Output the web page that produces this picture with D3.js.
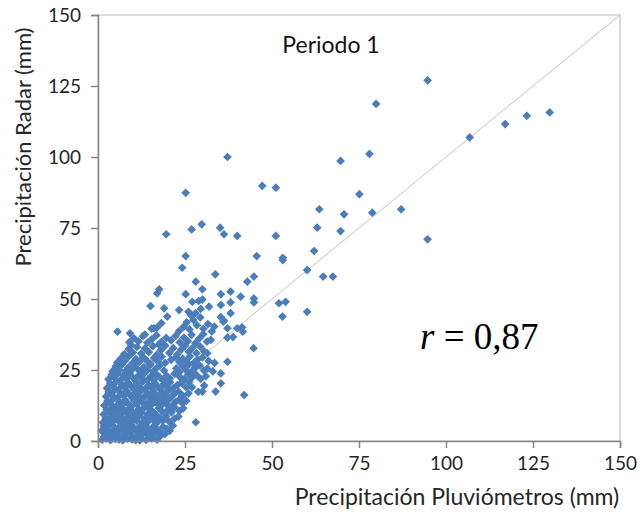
<!DOCTYPE html>
<html>
<head>
<meta charset="utf-8">
<script src="https://cdn.jsdelivr.net/npm/d3@7"></script>
<style>
  body { margin: 0; background: #fff; }
  #chart { width: 641px; height: 519px; }
  text { font-family: Lato, "Noto Sans", sans-serif; }
</style>
</head>
<body>
<div id="chart"></div>
<script>
// axis ticks (mm)
const tickValues = [0, 25, 50, 75, 100, 125, 150];

// dense cluster, [gauge mm, radar mm]
const clusterLow = [
  [1.2,0.4],[1.8,1.6],[2.4,0.9],[3.1,2.7],[3.6,0.3],[4.3,1.8],[5.0,0.7],[5.6,2.9],[6.4,1.2],[7.1,0.2],
  [7.7,2.2],[8.5,0.8],[9.2,2.9],[10.1,1.4],[10.8,0.3],[11.6,2.5],[12.3,1.0],[13.1,2.8],[13.8,0.4],[14.6,1.9],
  [15.4,0.9],[16.2,2.6],[17.0,0.5],[17.9,1.8],[19.2,2.4],[2.0,2.8],[6.0,0.5],[9.8,0.6],[14.1,2.9],[12.0,0.2],
  [1.0,3.6],[1.7,5.2],[2.6,4.1],[3.4,5.8],[4.1,3.3],[4.9,4.7],[5.7,3.8],[6.6,5.5],[7.3,3.4],[8.1,4.9],
  [8.8,3.7],[9.7,5.6],[10.5,4.2],[11.3,3.3],[12.0,5.1],[12.9,3.9],[13.6,5.8],[14.4,4.4],[15.3,3.5],[16.1,5.3],
  [17.0,4.0],[17.8,3.2],[18.7,5.0],[19.8,4.3],[20.6,3.6],[21.5,5.4],[8.4,6.0],[3.0,3.5],
  [1.4,6.5],[2.2,8.1],[3.0,6.9],[3.8,8.7],[4.6,7.2],[5.4,8.3],[6.2,6.6],[7.0,8.0],[7.8,7.0],[8.7,8.8],
  [9.5,6.8],[10.3,8.2],[11.1,7.1],[11.9,8.9],[12.7,6.6],[13.5,7.9],[14.3,6.8],[15.2,8.6],[16.0,7.3],[16.9,6.4],
  [17.8,8.1],[18.6,7.2],[19.5,8.7],[20.4,6.9],[22.0,7.9],[23.1,8.6],[28.1,6.6],
  [1.6,9.4],[2.5,11.2],[3.3,9.9],[4.2,11.7],[5.0,10.1],[5.9,11.4],[6.7,9.6],[7.5,11.0],[8.4,9.9],[9.2,11.8],
  [10.0,10.3],[10.9,9.3],[11.7,11.3],[12.5,10.0],[13.4,11.9],[14.2,9.5],[15.0,11.1],[15.9,10.2],[16.7,9.2],[17.5,11.6],
  [18.4,10.4],[19.3,9.6],[20.2,11.2],[21.1,10.1],[22.0,11.8],[23.4,10.6],[24.5,11.5],[3.8,10.8],
  [1.8,12.5],[2.7,14.1],[3.6,13.0],[4.4,14.8],[5.3,12.3],[6.1,13.8],[7.0,12.7],[7.8,14.5],[8.6,13.2],[9.5,12.1],
  [10.3,14.3],[11.2,12.9],[12.0,14.7],[12.9,13.4],[13.7,12.2],[14.6,14.0],[15.4,12.8],[16.3,14.6],[17.1,13.1],[18.0,12.4],
  [18.8,14.2],[19.7,13.0],[20.6,14.8],[21.5,12.6],[22.4,13.9],[23.3,14.6],[24.3,13.3],[25.4,14.1]
];

const clusterMid = [
  [2.3,15.7],[3.1,17.4],[4.0,16.1],[4.8,17.9],[5.7,15.4],[6.5,16.9],[7.4,15.9],[8.2,17.6],[9.1,16.3],[9.9,15.2],
  [10.8,17.2],[11.6,16.0],[12.5,17.8],[13.3,15.5],[14.2,16.8],[15.0,15.8],[15.9,17.5],[16.7,16.2],[17.6,15.1],[18.4,17.0],
  [19.3,16.0],[20.2,17.7],[21.1,15.6],[22.0,16.7],[23.2,17.3],[24.4,15.9],[26.0,16.8],[27.0,18.9],[28.8,17.3],[30.0,17.4],
  [33.8,17.4],[42.0,16.2],
  [2.6,18.6],[3.5,20.3],[4.4,19.1],[5.2,20.8],[6.1,18.4],[6.9,19.8],[7.8,18.9],[8.6,20.6],[9.5,19.3],[10.3,18.2],
  [11.2,20.1],[12.0,19.0],[12.9,20.9],[13.7,18.5],[14.6,19.7],[15.4,18.7],[16.3,20.4],[17.1,19.2],[18.0,18.1],[18.9,20.0],
  [19.8,19.0],[20.7,20.7],[21.6,18.6],[22.8,19.7],[24.0,20.5],[25.3,19.0],[26.2,20.8],[35.3,20.3],[30.5,19.5],
  [3.0,21.7],[3.9,23.3],[4.8,22.2],[5.7,23.8],[6.5,21.4],[7.4,22.9],[8.2,21.9],[9.1,23.6],[10.0,22.4],[10.8,21.2],
  [11.7,23.1],[12.6,22.0],[13.4,23.9],[14.3,21.6],[15.2,22.8],[16.0,21.5],[16.9,23.4],[17.8,22.3],[18.8,21.3],[19.7,23.0],
  [20.6,22.1],[22.0,23.7],[23.5,22.6],[24.8,21.8],[25.9,23.5],[27.0,22.4],[28.3,23.2],[29.5,21.9],[31.0,22.8],[35.3,23.8],
  [4.2,24.6],[5.1,26.3],[6.0,25.1],[6.9,26.9],[7.8,24.4],[8.7,25.8],[9.6,24.9],[10.5,26.6],[11.4,25.3],[12.3,24.2],
  [13.2,26.0],[14.1,25.0],[15.0,26.8],[15.9,24.5],[16.8,25.7],[17.7,26.5],[19.0,24.8],[22.5,25.6],[23.4,24.3],[24.3,26.4],
  [25.2,25.1],[26.1,26.9],[27.0,24.6],[28.0,25.8],[29.2,26.6],[30.4,24.9],[31.4,25.5],[33.0,24.5]
];

const clusterHigh = [
  [5.5,27.6],[6.6,29.1],[7.7,28.2],[8.8,29.8],[9.9,27.4],[10.9,28.8],[11.9,27.9],[12.9,29.6],[14.0,28.3],[15.1,27.2],
  [16.1,29.2],[17.2,28.0],[18.3,29.7],[19.3,27.5],[21.0,28.6],[22.4,29.5],[23.4,27.8],[24.4,29.0],[25.4,28.1],[26.4,29.8],
  [27.4,27.3],[28.6,28.7],[30.0,29.4],[31.8,28.2],[33.5,27.5],[37.2,27.9],
  [7.6,30.6],[8.8,32.4],[10.0,31.2],[11.2,33.1],[12.4,30.8],[13.5,32.6],[14.6,31.3],[15.8,33.4],[16.9,30.4],[18.1,32.0],
  [19.3,33.6],[20.5,31.0],[21.6,32.7],[22.8,30.5],[23.9,32.2],[25.0,33.5],[26.1,31.4],[27.2,32.8],[28.3,30.9],[29.4,33.2],
  [30.5,31.6],[31.4,30.9],[32.4,35.6],[9.5,33.8],[17.5,34.0],
  [9.0,34.8],[10.3,36.2],[11.6,35.1],[12.9,36.9],[14.2,34.6],[15.5,35.9],[16.8,37.2],[18.2,34.9],[19.6,36.3],[21.0,35.4],
  [22.3,37.0],[23.5,34.7],[24.7,36.4],[25.8,35.2],[26.9,37.4],[28.0,34.5],[29.1,36.1],[30.2,37.6],[31.3,35.0],[37.2,36.4],
  [38.8,36.6],[13.5,37.5],
  [5.6,38.5],[9.2,37.9],[15.4,39.6],[16.1,39.7],[17.0,40.0],[18.2,41.5],[23.3,38.7],[24.6,40.2],[25.5,41.8],[26.3,39.3],
  [27.4,42.6],[28.4,40.8],[29.4,43.5],[30.3,39.5],[31.6,41.2],[32.7,38.6],[33.4,40.3],[26.8,44.2],[28.0,45.0],[36.0,42.0],
  [37.2,39.7],[40.0,39.7],[41.4,40.0],[41.6,38.5],[44.7,32.7],[35.3,43.6],[36.2,42.4],[19.9,43.8],[38.1,45.0]
];

const scattered = [
  [15.1,47.5],[19.0,46.7],[23.3,46.1],[17.6,53.4],[17.0,52.0],[25.2,51.7],[30.0,53.4],[35.3,51.7],[38.1,52.6],[41.0,50.8],
  [44.8,50.2],[44.8,48.8],[27.1,49.0],[28.9,49.3],[30.0,49.8],[31.9,47.3],[35.3,47.9],[38.1,48.8],[52.0,48.5],[53.9,49.0],
  [53.0,43.8],[60.1,45.5],[24.2,61.0],[33.7,58.7],[28.1,56.1],[44.8,57.9],[42.9,56.1],[60.1,60.2],[53.1,63.7],[64.7,57.9],
  [67.5,57.9],[29.5,46.5],[26.0,45.5]
];

const outliers = [
  [19.6,72.8],[25.2,87.4],[25.2,65.1],[26.9,74.5],[29.8,76.3],[35.1,75.1],[36.2,72.8],[37.2,100],[40.0,72.2],[45.6,65.1],
  [47.2,89.8],[51.1,89.2],[51.1,72.2],[53.1,64.5],[62.1,66.9],[63.0,75.1],[63.6,81.6],[94.7,127.0],[79.9,118.7],[69.7,98.6],
  [78.0,101.1],[106.8,106.9],[117.0,111.6],[123.2,114.5],[129.8,115.7],[75.1,86.9],[70.7,79.8],[78.8,80.4],[87.1,81.6],[69.7,73.9],
  [94.7,71.0]
];

const points = clusterLow.concat(clusterMid, clusterHigh, scattered, outliers);

const margin = {top: 15, right: 21, bottom: 78, left: 98};
const W = 641, H = 519;
const width = W - margin.left - margin.right;
const height = H - margin.top - margin.bottom;

const svg = d3.select("#chart").append("svg")
    .attr("width", W)
    .attr("height", H);

const g = svg.append("g")
    .attr("transform", "translate(" + margin.left + "," + margin.top + ")");

const x = d3.scaleLinear().domain([0, 150]).range([0, width]);
const y = d3.scaleLinear().domain([0, 150]).range([height, 0]);

// plot frame (top / right)
g.append("rect")
    .attr("x", 0).attr("y", 0)
    .attr("width", width).attr("height", height)
    .attr("fill", "none")
    .attr("stroke", "#cfcfcf")
    .attr("stroke-width", 1.5);

// 1:1 line
g.append("line")
    .attr("x1", x(0)).attr("y1", y(0))
    .attr("x2", x(150)).attr("y2", y(150))
    .attr("stroke", "#c4c4c4")
    .attr("stroke-width", 1);

// diamonds
const diamond = d3.symbol().type(d3.symbolSquare).size(38);
g.append("g").selectAll("path")
    .data(points)
    .join("path")
    .attr("d", diamond)
    .attr("transform", d => "translate(" + x(d[0]) + "," + y(d[1]) + ") rotate(45)")
    .attr("fill", "#4a7dbb");

// axes
const xAxis = g.append("g")
    .attr("transform", "translate(0," + height + ")")
    .call(d3.axisBottom(x).tickValues(tickValues).tickSize(7).tickPadding(9));
const yAxis = g.append("g")
    .call(d3.axisLeft(y).tickValues(tickValues).tickSize(7).tickPadding(10));

[xAxis, yAxis].forEach(a => {
  a.select(".domain").attr("stroke", "#868686").attr("stroke-width", 1.5);
  a.selectAll(".tick line").attr("stroke", "#868686").attr("stroke-width", 1.5);
  a.selectAll(".tick text")
      .attr("fill", "#262626")
      .style("font-family", "Lato, sans-serif")
      .style("font-size", "19px");
});

// axis titles
svg.append("text")
    .attr("x", 457).attr("y", 505)
    .attr("text-anchor", "middle")
    .attr("fill", "#262626")
    .style("font-size", "23px")
    .text("Precipitación Pluviómetros (mm)");

svg.append("text")
    .attr("transform", "translate(31,147) rotate(-90)")
    .attr("text-anchor", "middle")
    .attr("fill", "#262626")
    .style("font-size", "22px")
    .text("Precipitación Radar (mm)");

// panel label
svg.append("text")
    .attr("x", 331).attr("y", 53)
    .attr("text-anchor", "middle")
    .attr("fill", "#111")
    .style("font-size", "23px")
    .text("Periodo 1");

// correlation
const rText = svg.append("text")
    .attr("x", 420).attr("y", 349)
    .attr("fill", "#000")
    .style("font-family", "'Liberation Serif', 'DejaVu Serif', serif")
    .style("font-size", "37px");
rText.append("tspan").style("font-style", "italic").text("r");
rText.append("tspan").text(" = 0,87");
</script>
</body>
</html>
